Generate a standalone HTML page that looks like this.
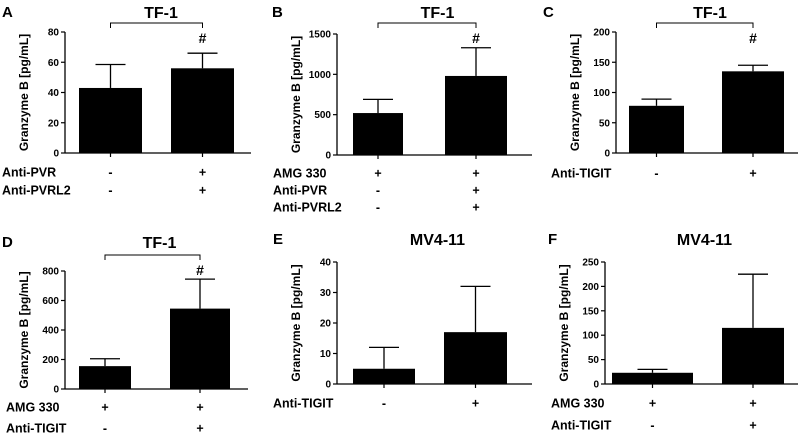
<!DOCTYPE html>
<html><head><meta charset="utf-8"><style>
body{margin:0;background:#fff;}
svg{display:block;font-family:"Liberation Sans",Arial,sans-serif;font-weight:bold;}
</style></head><body>
<svg id="fig" width="800" height="435" viewBox="0 0 800 435"></svg>
<script>
// Panel data
const aCategories=["Control","Anti-PVR + Anti-PVRL2"];
const aValues=[43,56];
const aErrors=[15.5,10];
const aTicks=[0,20,40,60,80];
const bCategories=["AMG 330","AMG 330 + Anti-PVR + Anti-PVRL2"];
const bValues=[520,980];
const bErrors=[170,350];
const bTicks=[0,500,1000,1500];
const cCategories=["Control","Anti-TIGIT"];
const cValues=[78,135];
const cErrors=[11,10];
const cTicks=[0,50,100,150,200];
const dCategories=["AMG 330","AMG 330 + Anti-TIGIT"];
const dValues=[155,545];
const dErrors=[50,200];
const dTicks=[0,200,400,600,800];
const eCategories=["Control","Anti-TIGIT"];
const eValues=[5,17];
const eErrors=[7,15];
const eTicks=[0,10,20,30,40];
const fCategories=["AMG 330","AMG 330 + Anti-TIGIT"];
const fValues=[23,115];
const fErrors=[7,110];
const fTicks=[0,50,100,150,200,250];

const NS="http://www.w3.org/2000/svg";
const svg=document.getElementById('fig');
function mk(tag,attrs,parent,text){const e=document.createElementNS(NS,tag);for(const k in attrs)e.setAttribute(k,attrs[k]);if(text!==undefined)e.textContent=text;parent.appendChild(e);return e;}

const panels=[
 {id:'a',letter:'A',title:'TF-1',lx:2,ax:65,top:32,bot:153,xend:251,bars:[[79,142],[171,234]],ticks:aTicks,vals:aValues,errs:aErrors,ty:12,bracket:23,
  rows:[['Anti-PVR',['-','+'],172],['Anti-PVRL2',['-','+'],190]],rowx:2},
 {id:'b',letter:'B',title:'TF-1',lx:272,ax:337,top:34,bot:155,xend:532,bars:[[353,403],[445,507]],ticks:bTicks,vals:bValues,errs:bErrors,ty:12,bracket:23,
  rows:[['AMG 330',['+','+'],173],['Anti-PVR',['-','+'],190],['Anti-PVRL2',['-','+'],207]],rowx:273},
 {id:'c',letter:'C',title:'TF-1',lx:543,ax:616,top:32,bot:153,xend:798,bars:[[629,684],[722,784]],ticks:cTicks,vals:cValues,errs:cErrors,ty:12,bracket:23,
  rows:[['Anti-TIGIT',['-','+'],173]],rowx:551},
 {id:'d',letter:'D',title:'TF-1',lx:2,ax:65,top:271,bot:389,xend:248,bars:[[79,131],[170,230]],ticks:dTicks,vals:dValues,errs:dErrors,ty:242,bracket:255,
  rows:[['AMG 330',['+','+'],407],['Anti-TIGIT',['-','+'],428]],rowx:6},
 {id:'e',letter:'E',title:'MV4-11',lx:273,ax:337,top:262,bot:384,xend:532,bars:[[353,415],[444,507]],ticks:eTicks,vals:eValues,errs:eErrors,ty:239,bracket:null,
  rows:[['Anti-TIGIT',['-','+'],403]],rowx:273},
 {id:'f',letter:'F',title:'MV4-11',lx:548,ax:605,top:262,bot:384,xend:798,bars:[[612,693],[722,784]],ticks:fTicks,vals:fValues,errs:fErrors,ty:239,bracket:null,
  rows:[['AMG 330',['+','+'],403],['Anti-TIGIT',['-','+'],425]],rowx:551}
];

panels.forEach(p=>{
 const g=mk('g',{},svg);
 
 
 const maxT=p.ticks[p.ticks.length-1];
 const y=v=>p.bot-(v/maxT)*(p.bot-p.top);
 const cx=p.bars.map(b=>(b[0]+b[1])/2);
 const lt=mk('text',{x:p.lx,y:p.ty+5,'font-size':15},g,p.letter);
 
 
 const tt=mk('text',{x:(p.ax+p.xend)/2+3,y:p.ty+6,'font-size':16,'text-anchor':'middle'},g,p.title);
 
 
 const ya=mk('line',{x1:p.ax,x2:p.ax,y1:p.top,y2:p.bot,stroke:'#000','stroke-width':1.3},g);
 
 
 p.ticks.forEach(t=>{
  mk('line',{x1:p.ax-4,x2:p.ax,y1:y(t),y2:y(t),stroke:'#000','stroke-width':1.2},g);
  const tl=mk('text',{x:p.ax-6,y:y(t)+3.5,'font-size':10,'text-anchor':'end'},g,t);
  
  
 });
 const yt=mk('text',{transform:`translate(${p.ax-37},${(p.top+p.bot)/2}) rotate(-90)`,'font-size':12,'text-anchor':'middle'},g,'Granzyme B [pg/mL]');
 
 
 const xa=mk('line',{x1:p.ax,x2:p.xend,y1:p.bot,y2:p.bot,stroke:'#000','stroke-width':1.3},g);
 
 
 p.vals.forEach((v,i)=>{
  const b=p.bars[i];
  const eb=mk('line',{x1:cx[i],x2:cx[i],y1:y(v),y2:y(v+p.errs[i]),stroke:'#000','stroke-width':1.3},g);
  
  
  mk('line',{x1:cx[i]-15,x2:cx[i]+15,y1:y(v+p.errs[i]),y2:y(v+p.errs[i]),stroke:'#000','stroke-width':1.3},g);
  const r=mk('rect',{x:b[0],y:y(v),width:b[1]-b[0],height:p.bot-y(v),fill:'#000'},g);
  
  
  mk('line',{x1:cx[i],x2:cx[i],y1:p.bot,y2:p.bot+4,stroke:'#000','stroke-width':1.2},g);
 });
 if(p.bracket!==null){
  const br=mk('path',{d:`M${cx[0]},${p.bracket+5}V${p.bracket}H${cx[1]}V${p.bracket+5}`,fill:'none',stroke:'#000','stroke-width':1},g);
  
  
  const h=mk('text',{x:cx[1],y:p.bracket+20,'font-size':14,'text-anchor':'middle'},g,'#');
  
  
 }
 p.rows.forEach(r=>{
  const rl=mk('text',{x:p.rowx,y:r[2]+4.5,'font-size':12.5},g,r[0]);
  
  
  r[1].forEach((s,i)=>{
   const st=mk('text',{x:cx[i],y:r[2]+4.5,'font-size':12.5,'text-anchor':'middle'},g,s);
   
   
  });
 });
});
</script>
</body></html>
